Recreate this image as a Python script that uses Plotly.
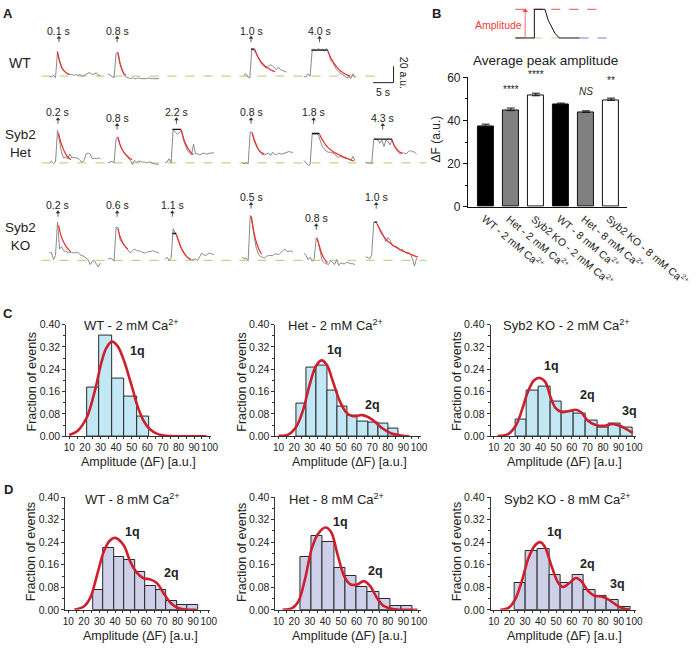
import plotly.graph_objects as go

# ======================= DATA =======================
# ---- Panel A: example events (dF, a.u.), one sample every TRACE_DT seconds
TRACE_DT = 0.5
SCALE_T = 5      # s   (scale bar)
SCALE_AU = 20    # a.u. (scale bar)

wt_starts = [1.94, 16.3, 49.6, 64.4]
wt_traces = [
    [0, -1, 1, -2, 30, 18, 10, 7, 4, 3, 2, 2, 1, 2, 1, 2, 0, 1, 2, 4, 4, 2, 3, 4, 1, 1],
    [3, 1, 0, -2, 28, 29, 16, 7, 1, -1, -2, -3, -2, -3, -3, -2, -3, -3, -3, -3, -2, -3, -3, -3, -3, -3],
    [1, 3, -1, -2, 34, 32, 28, 22, 18, 14, 12, 10, 12, 14, 13, 10, 8, 11, 8, 7, 6, 5],
    [0, -1, 3, 0, 32, 33, 31, 34, 32, 33, 31, 34, 30, 20, 17, 13, 8, 6, 3, 2, 0, -2, -1, -3, 3, -2],
]
wt_fit_starts = [3.87, 18.72, 52.3, 70.22]
wt_fits = [
    [30, 19, 12, 7.5, 5, 3, 2],
    [29, 16, 8, 3, 1],
    [33, 27, 22, 18, 15, 12.5, 10.5, 9, 7.5, 6.5, 5.5],
    [31, 25, 20, 16, 12.5, 9.5, 7, 5, 3.5, 2, 1, 0],
]
wt_plateau_t0 = [51.41, 66.18]
wt_plateau_t1 = [52.3, 70.22]
wt_plateau_v = [33, 32]
wt_labels = ["0.1 s", "0.8 s", "1.0 s", "4.0 s"]
wt_label_t = [4.28, 18.56, 51.4, 68.2]

het_starts = [1.94, 16.3, 30.3, 49.2, 64.4, 79.5]
het_traces = [
    [0, 2, -1, 1, 40, 25, 12, 6, 7, 5, 11, 6, 7, 6, 6, 3, 1, 3, 11, 12, 11, 5, 6, 5, 6, 5],
    [0, 1, 2, 0, 30, 32, 22, 16, 12, 9, 6, 3, -2, 3, 1, 2, 2, 1, 1, 0, 1, 1, -1, -1, -2, -1],
    [0, 1, 5, 0, 41, 38, 35, 37, 40, 28, 20, 15, 12, 10, 23, 11, 11, 10, 11, 12, 11, 11, 12, 12, 13],
    [0, -1, 0, -1, 38, 37, 29, 21, 16, 13, 10, 10, 11, 12, 9, 13, 11, 10, 12, 11, 11, 12, 13, 14, 13, 13],
    [3, 0, -3, -2, 36, 35, 36, 34, 26, 20, 17, 14, 13, 13, 12, 11, 8, 7, 8, 7, 6, 5, 5, 3, 8, 3],
    [1, 0, 0, -1, 29, 29, 28, 24, 28, 20, 28, 26, 22, 29, 21, 16, 13, 11, 12, 12, 11, 14, 15, 14, 13, 11],
]
het_fit_starts = [4.20, 18.72, 34.30, 51.65, 68.20, 85.96]
het_fits = [
    [36, 26, 19, 13, 9, 6, 4],
    [31, 23, 17, 13, 10, 7.5, 5.5, 4],
    [40, 31, 24, 19, 15, 12, 10],
    [37, 28, 22, 17, 14, 12, 11],
    [35, 30, 26, 22, 19, 17, 15, 13, 12, 10.5, 9.5, 8, 7, 6, 5, 4, 3, 2.5],
    [28, 22, 18, 15, 13, 12],
]
het_plateau_t0 = [32.12, 66.34, 81.52]
het_plateau_t1 = [34.30, 68.20, 85.96]
het_plateau_v = [41, 36, 29]
het_labels = ["0.2 s", "0.8 s", "2.2 s", "0.8 s", "1.8 s", "4.3 s"]
het_label_t = [4.04, 18.56, 33.1, 51.4, 66.75, 83.7]

ko_starts = [1.94, 16.3, 30.3, 49.2, 64.4, 79.5]
ko_traces = [
    [9, 10, 1, 6, 47, 14, 17, 12, 11, 10, 10, 10, 9, 10, 10, 7, 6, 5, 3, 1, -5, -1, 0, -4, -8, -3],
    [1, 3, 2, -1, 41, 40, 25, 22, 19, 15, 12, 9, 12, 14, 12, 12, 11, 10, 9, 10, 11, 11, 12, 11, 10, 9],
    [1, 4, 0, 3, 39, 34, 30, 23, 15, 10, 7, 3, 2, 1, 1, 2, 0, 5, 9, 7, 6, 8, 9, 8, 7],
    [4, 2, 3, 0, 55, 45, 28, 15, 8, 5, 4, 3, 5, 6, 6, 6, 8, 8, 7, 10, 12, 14, 11, 11, 12, 10],
    [9, 6, 1, 4, -1, 2, 28, 22, 10, -1, -3, -4, -5, 0, -3, -5, 1, -6, -3, -4, -4, -2, -3, -4, -4, -5],
    [5, 3, 2, 7, 47, 47, 43, 40, 35, 29, 23, 28, 25, 19, 17, 17, 16, 13, 14, 11, 9, 10, 8, 2, -7, 3],
]
ko_fit_starts = [4.20, 18.72, 33.09, 51.49, 67.64, 82.33]
ko_fits = [
    [43, 32, 25, 20, 16, 13, 11],
    [39, 30, 24, 19, 16, 14],
    [32, 24, 17, 12, 8, 5, 3, 1],
    [54, 38, 26, 18, 12, 8],
    [27, 18, 10, 4, 0, -3],
    [45, 39, 34, 30, 27, 24, 22, 20, 18, 16.5, 15, 13.5, 12, 11, 10, 9, 8, 7, 6, 5, 4.5],
]
ko_plateau_t0 = [32.12, 81.68]
ko_plateau_t1 = [33.09, 82.33]
ko_plateau_v = [33, 47]
ko_labels = ["0.2 s", "0.6 s", "1.1 s", "0.5 s", "0.8 s", "1.0 s"]
ko_label_t = [4.04, 18.56, 32.1, 51.4, 67.4, 82.1]

# ---- Panel B: schematic + average peak amplitude
schem_x = [5, 24.3, 24.3, 35, 38.3, 41.7, 45, 48.3, 50, 70]
schem_y = [0, 0, 1, 1, 0.62, 0.37, 0.17, 0.04, 0, 0]
bar_labels = ["WT - 2 mM Ca<sup>2+</sup>", "Het - 2 mM Ca<sup>2+</sup>", "Syb2 KO - 2 mM Ca<sup>2+</sup>",
              "WT - 8 mM Ca<sup>2+</sup>", "Het - 8 mM Ca<sup>2+</sup>", "Syb2 KO - 8 mM Ca<sup>2+</sup>"]
bar_vals = [37.3, 44.6, 51.5, 47.3, 43.8, 49.4]
bar_err = [1.0, 1.2, 1.2, 0.8, 0.7, 1.0]
bar_sig = ["", "****", "****", "", "<i>NS</i>", "**"]

# ---- Panels C/D: amplitude histograms (fraction of events) + multi-Gaussian fits
hist_titles = ["WT - 2 mM Ca<sup>2+</sup>", "Het - 2 mM Ca<sup>2+</sup>", "Syb2 KO - 2 mM Ca<sup>2+</sup>",
               "WT - 8 mM Ca<sup>2+</sup>", "Het - 8 mM Ca<sup>2+</sup>", "Syb2 KO - 8 mM Ca<sup>2+</sup>"]
hist_bin_start = [21.4, 21.4, 23.7, 25.9, 24.0, 23.3]
hist_bin_width = [8.0, 6.56, 7.53, 6.73, 7.2, 7.42]

wt2_frac = [0.174, 0.359, 0.207, 0.143, 0.070]
het2_frac = [0.116, 0.245, 0.254, 0.165, 0.108, 0.074, 0.052, 0.050, 0.044, 0.027]
ko2_frac = [0.061, 0.165, 0.179, 0.123, 0.090, 0.083, 0.058, 0.030, 0.047, 0.032]
wt8_frac = [0.070, 0.220, 0.188, 0.177, 0.134, 0.084, 0.069, 0.032, 0.018, 0.018]
het8_frac = [0.186, 0.260, 0.240, 0.148, 0.119, 0.081, 0.065, 0.038, 0.015, 0.013]
ko8_frac = [0.096, 0.208, 0.217, 0.123, 0.096, 0.123, 0.071, 0.050, 0.035, 0.009]

wt2_fit_x = [10, 15.4, 21.4, 26.7, 30.4, 33.6, 37.3, 41.1, 45.4, 48.6, 50.8, 53.3, 57.2, 61.5, 66.8, 75, 85, 98]
wt2_fit_y = [0.005, 0.02, 0.07, 0.17, 0.26, 0.315, 0.339, 0.322, 0.265, 0.207, 0.165, 0.115, 0.06, 0.026, 0.008, 0.001, 0, 0]
het2_fit_x = [10, 16.2, 21.4, 25.5, 29.7, 33.8, 37.5, 41.0, 45.2, 49.3, 53.5, 57.6, 63.8, 70.0, 76.2, 82.4, 88.6, 93.8]
het2_fit_y = [0.002, 0.006, 0.035, 0.09, 0.18, 0.25, 0.272, 0.255, 0.19, 0.125, 0.085, 0.072, 0.076, 0.06, 0.03, 0.01, 0.003, 0.0]
ko2_fit_x = [12.5, 18.9, 24.1, 28.4, 31.5, 35.7, 39.5, 43.1, 46.3, 49.5, 53.7, 57.9, 62.7, 66.3, 70.5, 75.8, 81.1, 85.9, 90.6, 94.8, 99]
ko2_fit_y = [0.001, 0.007, 0.038, 0.10, 0.154, 0.2, 0.209, 0.194, 0.142, 0.102, 0.087, 0.09, 0.095, 0.084, 0.055, 0.040, 0.038, 0.044, 0.038, 0.027, 0.012]
wt8_fit_x = [14, 20, 24.2, 28.5, 32.7, 36.5, 40.1, 45.5, 49.7, 53.9, 58.2, 62.4, 66.7, 70.9, 75.2, 79.4, 85.8, 92]
wt8_fit_y = [0.001, 0.012, 0.044, 0.125, 0.206, 0.245, 0.255, 0.229, 0.171, 0.132, 0.112, 0.108, 0.095, 0.061, 0.027, 0.009, 0.001, 0]
het8_fit_x = [12.5, 18.75, 22.9, 27.1, 31.25, 35.4, 40, 43.75, 47.9, 52.1, 56.25, 60.4, 64.6, 68.75, 72.9, 77.1, 83.3, 91.7, 99]
het8_fit_y = [0.0, 0.006, 0.032, 0.113, 0.217, 0.27, 0.292, 0.275, 0.194, 0.119, 0.09, 0.09, 0.102, 0.084, 0.044, 0.015, 0.003, 0, 0]
ko8_fit_x = [14.2, 19.5, 23.8, 28, 32.2, 36.5, 39.7, 42.8, 47.1, 51.3, 54.5, 58.7, 62.5, 66.1, 70.4, 74.6, 78.9, 83.1, 88.4, 92.6, 96.9]
ko8_fit_y = [0.0, 0.007, 0.038, 0.102, 0.183, 0.229, 0.24, 0.223, 0.154, 0.096, 0.081, 0.096, 0.113, 0.102, 0.067, 0.05, 0.047, 0.038, 0.018, 0.006, 0.001]

hist_quanta = [["1q"], ["1q", "2q"], ["1q", "2q", "3q"], ["1q", "2q"], ["1q", "2q"], ["1q", "2q", "3q"]]

# ======================= LAYOUT / STYLE =======================
W, H = 700, 656
FONT = "Liberation Sans, Arial, Helvetica, sans-serif"
TXT = "#222222"
GRAY_TRACE = "#8a8a8a"
RED_FIT = "#ee2b2b"
BASE_GREEN = "#bcd98c"
HIST_RED = "#cf1f2e"
FILL_C = "#c2e8f6"
FILL_D = "#cdd0e8"

PX_PER_S = 4.13
PX_PER_AU = 0.835
A_X0, A_X1 = 40, 430

def fx(p):
    return p / W

def fy(p):
    return 1 - p / H

fig = go.Figure()
axes = {}
annotations = []
shapes = []

def ref(n, letter):
    return letter if n == 1 else f"{letter}{n}"

def set_axes(n, xpx, ypx, xr, yr, xopts=None, yopts=None):
    xa = dict(domain=[fx(xpx[0]), fx(xpx[1])], range=xr, anchor=ref(n, "y"),
              visible=False, fixedrange=True, showgrid=False, zeroline=False)
    ya = dict(domain=[fy(ypx[1]), fy(ypx[0])], range=yr, anchor=ref(n, "x"),
              visible=False, fixedrange=True, showgrid=False, zeroline=False)
    if xopts:
        xa.update(xopts)
    if yopts:
        ya.update(yopts)
    axes["xaxis" if n == 1 else f"xaxis{n}"] = xa
    axes["yaxis" if n == 1 else f"yaxis{n}"] = ya

def text(px, py, s, size, **kw):
    d = dict(x=fx(px), y=fy(py), xref="paper", yref="paper", text=s, showarrow=False,
             font=dict(family=FONT, size=size, color=kw.pop("color", TXT)),
             xanchor=kw.pop("xanchor", "center"), yanchor=kw.pop("yanchor", "middle"))
    d.update(kw)
    annotations.append(d)

# ---------------- Panel A ----------------
rows = [
    dict(starts=wt_starts, traces=wt_traces, fs=wt_fit_starts, fits=wt_fits,
         p0=wt_plateau_t0, p1=wt_plateau_t1, pv=wt_plateau_v, labels=wt_labels, lt=wt_label_t),
    dict(starts=het_starts, traces=het_traces, fs=het_fit_starts, fits=het_fits,
         p0=het_plateau_t0, p1=het_plateau_t1, pv=het_plateau_v, labels=het_labels, lt=het_label_t),
    dict(starts=ko_starts, traces=ko_traces, fs=ko_fit_starts, fits=ko_fits,
         p0=ko_plateau_t0, p1=ko_plateau_t1, pv=ko_plateau_v, labels=ko_labels, lt=ko_label_t),
]
# top px, bottom px, baseline px, baseline length (s), label heights (a.u.)
row_geom = [
    (14, 88, 70.7, 82.8, [54.7, 54.7, 54.7, 54.7]),
    (96, 176, 159.3, 94.4, [61, 54, 61, 61, 61, 54]),
    (184, 282, 259.0, 94.4, [66.7, 66.7, 66.7, 76.6, 50.7, 76.6]),
]
xmax_s = (A_X1 - A_X0) / PX_PER_S
for r, (row, geom) in enumerate(zip(rows, row_geom)):
    n = r + 1
    top, bot, base, blen, ly = geom
    set_axes(n, (A_X0, A_X1), (top, bot), [0, xmax_s],
             [-(bot - base) / PX_PER_AU, (base - top) / PX_PER_AU])
    xa, ya = ref(n, "x"), ref(n, "y")
    fig.add_trace(go.Scatter(x=[0, blen], y=[0, 0], mode="lines", xaxis=xa, yaxis=ya,
                             line=dict(color=BASE_GREEN, width=1.2, dash="dash"), hoverinfo="skip"))
    for t0, vals in zip(row["starts"], row["traces"]):
        fig.add_trace(go.Scatter(x=[t0 + i * TRACE_DT for i in range(len(vals))], y=vals,
                                 mode="lines", xaxis=xa, yaxis=ya,
                                 line=dict(color=GRAY_TRACE, width=1), hoverinfo="skip"))
    for a, b, v in zip(row["p0"], row["p1"], row["pv"]):
        fig.add_trace(go.Scatter(x=[a, b], y=[v, v], mode="lines", xaxis=xa, yaxis=ya,
                                 line=dict(color="#111111", width=1.3), hoverinfo="skip"))
    for t0, vals in zip(row["fs"], row["fits"]):
        fig.add_trace(go.Scatter(x=[t0 + i * TRACE_DT for i in range(len(vals))], y=vals,
                                 mode="lines", xaxis=xa, yaxis=ya, line_shape="spline",
                                 line=dict(color=RED_FIT, width=1.2), hoverinfo="skip"))
    # event labels with small up-arrows
    ax_, ay_, tx_, ty_ = [], [], [], []
    for lab, t, yv in zip(row["labels"], row["lt"], ly):
        annotations.append(dict(x=t, y=yv + 0.8, xref=xa, yref=ya, text=lab, showarrow=False,
                                font=dict(family=FONT, size=10.5, color=TXT)))
        ax_ += [t, t, None]
        ay_ += [yv - 13.2, yv - 8.6, None]
        tx_.append(t)
        ty_.append(yv - 7.6)
    fig.add_trace(go.Scatter(x=ax_, y=ay_, mode="lines", xaxis=xa, yaxis=ya,
                             line=dict(color="#333", width=0.8), hoverinfo="skip"))
    fig.add_trace(go.Scatter(x=tx_, y=ty_, mode="markers", xaxis=xa, yaxis=ya,
                             marker=dict(symbol="triangle-up", size=4, color="#333", line=dict(width=0)),
                             hoverinfo="skip"))

# scale bar (WT row)
sb_t0 = (376 - A_X0) / PX_PER_S
sb_v0 = -7.9
shapes.append(dict(type="line", xref="x", yref="y", x0=sb_t0, x1=sb_t0 + SCALE_T, y0=sb_v0, y1=sb_v0,
                   line=dict(color="#222", width=1)))
shapes.append(dict(type="line", xref="x", yref="y", x0=sb_t0 + SCALE_T, x1=sb_t0 + SCALE_T,
                   y0=sb_v0, y1=sb_v0 + SCALE_AU, line=dict(color="#222", width=1)))
annotations.append(dict(x=sb_t0 + SCALE_T / 2, y=sb_v0 - 1.5, xref="x", yref="y", text=f"{SCALE_T} s",
                        showarrow=False, yanchor="top", font=dict(family=FONT, size=10.5, color=TXT)))
annotations.append(dict(x=sb_t0 + SCALE_T + 0.6, y=sb_v0 + SCALE_AU / 2 + 2, xref="x", yref="y",
                        text=f"{SCALE_AU} a.u.", showarrow=False, textangle=90, xanchor="left",
                        font=dict(family=FONT, size=10.5, color=TXT)))

# row names
text(18, 57, "WT", 14)
text(19, 139, "Syb2<br>Het", 13.5)
text(19, 235, "Syb2<br>KO", 13.5)

# ---------------- Panel B ----------------
set_axes(4, (515, 620), (0, 34), [0, 105], [-0.08, 1.08])
fig.add_trace(go.Scatter(x=[5, 93], y=[1, 1], mode="lines", xaxis="x4", yaxis="y4",
                         line=dict(color="#f04a4a", width=1, dash="dash"), hoverinfo="skip"))
fig.add_trace(go.Scatter(x=[5, 52], y=[0, 0], mode="lines", xaxis="x4", yaxis="y4",
                         line=dict(color=BASE_GREEN, width=1, dash="dash"), hoverinfo="skip"))
fig.add_trace(go.Scatter(x=[70, 102], y=[0, 0], mode="lines", xaxis="x4", yaxis="y4",
                         line=dict(color="#9a72d6", width=1, dash="dash"), hoverinfo="skip"))
fig.add_trace(go.Scatter(x=schem_x, y=schem_y, mode="lines", xaxis="x4", yaxis="y4",
                         line=dict(color="#111", width=1), hoverinfo="skip"))
# amplitude arrow (line + head)
fig.add_trace(go.Scatter(x=[15, 15], y=[0, 0.93], mode="lines", xaxis="x4", yaxis="y4",
                         line=dict(color="#f04a4a", width=0.8), hoverinfo="skip"))
fig.add_trace(go.Scatter(x=[15], y=[0.95], mode="markers", xaxis="x4", yaxis="y4",
                         marker=dict(symbol="triangle-up", size=5, color="#f04a4a", line=dict(width=0)),
                         hoverinfo="skip"))
text(503, 18.3, "Amplitude", 10.5, color="#f03a3a")

set_axes(5, (472, 633), (72, 204), [-0.709, 5.63], [0, 60],
         xopts=dict(visible=True, showline=True, linecolor="#111", linewidth=1, ticks="",
                    showticklabels=False),
         yopts=dict(visible=True, showline=True, linecolor="#111", linewidth=1, ticks="outside",
                    ticklen=4, tickcolor="#111", tickvals=[0, 20, 40, 60],
                    tickfont=dict(family=FONT, size=12, color=TXT),
                    minor=dict(ticks="outside", ticklen=2, tickcolor="#111", dtick=10)))
fig.add_trace(go.Bar(x=list(range(6)), y=bar_vals, width=0.63, xaxis="x5", yaxis="y5",
                     marker=dict(color=["#000000", "#808080", "#ffffff"] * 2,
                                 line=dict(color="#111", width=1)),
                     error_y=dict(type="data", array=bar_err, arrayminus=[0] * 6, symmetric=False,
                                  color="#111", thickness=1, width=4),
                     hoverinfo="skip"))
# rotated category labels (start of each label at its bar)
for i, lab in enumerate(bar_labels):
    annotations.append(dict(x=i - 0.36, y=fy(206), xref="x5", yref="paper", text=lab,
                            showarrow=False, textangle=40, xanchor="left", yanchor="top",
                            font=dict(family=FONT, size=10.5, color=TXT)))
sig_offset = [0, 5.0, 5.4, 0, 5.5, 4.6]
for i, s in enumerate(bar_sig):
    if s:
        annotations.append(dict(x=i, y=bar_vals[i] + bar_err[i] + sig_offset[i], xref="x5", yref="y5",
                                text=s, showarrow=False, yanchor="bottom",
                                font=dict(family=FONT, size=10, color="#222222")))
text(551, 55, "Average peak amplitude", 13.5)
text(440, 135, "ΔF (a.u.)", 12, textangle=-90)

# ---------------- Panels C / D ----------------
hist_frac = [wt2_frac, het2_frac, ko2_frac, wt8_frac, het8_frac, ko8_frac]
hist_fx = [wt2_fit_x, het2_fit_x, ko2_fit_x, wt8_fit_x, het8_fit_x, ko8_fit_x]
hist_fy = [wt2_fit_y, het2_fit_y, ko2_fit_y, wt8_fit_y, het8_fit_y, ko8_fit_y]
hist_xdom = [(65, 212), (277, 424), (495, 642), (64, 211), (277, 424), (495, 642)]
hist_ydom = [(324.5, 438.7)] * 3 + [(500.7, 616)] * 3
hist_title_px = [(131, 325), (338, 325), (572, 325), (132, 503), (339, 503), (573, 503)]
hist_ytitle_px = [(30, 383), (243, 383), (461, 383), (29.5, 557), (243, 557), (461, 557)]
hist_xtitle_px = [(138, 465), (352, 465), (570, 465), (140, 643), (352, 643), (570, 643)]
quanta_pos = [
    [(53.5, 0.307)],
    [(45.6, 0.309), (70.0, 0.113)],
    [(47.3, 0.252), (69.9, 0.148), (97.3, 0.090)],
    [(51.4, 0.275), (76.2, 0.131)],
    [(50.0, 0.310), (71.9, 0.136)],
    [(49.2, 0.275), (70.4, 0.162), (89.4, 0.090)],
]
for k in range(6):
    n = 6 + k
    xa, ya = ref(n, "x"), ref(n, "y")
    set_axes(n, hist_xdom[k], hist_ydom[k], [8, 101], [0, 0.40],
             xopts=dict(visible=True, showline=True, linecolor="#333", linewidth=1, ticks="outside",
                        ticklen=2, tickcolor="#333", tick0=10, dtick=10, tickangle=0,
                        tickfont=dict(family=FONT, size=10, color=TXT),
                        minor=dict(ticks="outside", ticklen=2, tickcolor="#333", dtick=5)),
             yopts=dict(visible=True, showline=True, linecolor="#333", linewidth=1, ticks="outside",
                        ticklen=3, tickcolor="#333", tick0=0, dtick=0.08, tickformat=".2f",
                        tickfont=dict(family=FONT, size=10.5, color=TXT),
                        minor=dict(ticks="outside", ticklen=2, tickcolor="#333", dtick=0.04)))
    vals = hist_frac[k]
    w = hist_bin_width[k]
    centers = [hist_bin_start[k] + w * (i + 0.5) for i in range(len(vals))]
    fig.add_trace(go.Bar(x=centers, y=vals, width=w, xaxis=xa, yaxis=ya,
                         marker=dict(color=FILL_C if k < 3 else FILL_D,
                                     line=dict(color="#2a2a2a", width=1)),
                         hoverinfo="skip"))
    fig.add_trace(go.Scatter(x=hist_fx[k], y=hist_fy[k], mode="lines", line_shape="spline",
                             xaxis=xa, yaxis=ya, line=dict(color=HIST_RED, width=2.6, smoothing=0.9),
                             hoverinfo="skip"))
    for q, (qx, qy) in zip(hist_quanta[k], quanta_pos[k]):
        annotations.append(dict(x=qx, y=qy, xref=xa, yref=ya, text=f"<b>{q}</b>", showarrow=False,
                                font=dict(family=FONT, size=12.5, color=TXT)))
    text(*hist_title_px[k], hist_titles[k], 13)
    text(*hist_ytitle_px[k], "Fraction of events", 12.5, textangle=-90)
    text(*hist_xtitle_px[k], "Amplitude (ΔF) [a.u.]", 12.5)

# panel letters
text(6, 7, "<b>A</b>", 13)
text(440, 7, "<b>B</b>", 13)
text(6.5, 313, "<b>C</b>", 13)
text(6.5, 493, "<b>D</b>", 13)

fig.update_layout(width=W, height=H, margin=dict(l=0, r=0, t=0, b=0),
                  paper_bgcolor="white", plot_bgcolor="white", showlegend=False,
                  font=dict(family=FONT, color=TXT), annotations=annotations, shapes=shapes,
                  bargap=0, **axes)
fig.write_html("out.html", config={"displayModeBar": False},
               post_script="document.body.style.margin='0px';")
